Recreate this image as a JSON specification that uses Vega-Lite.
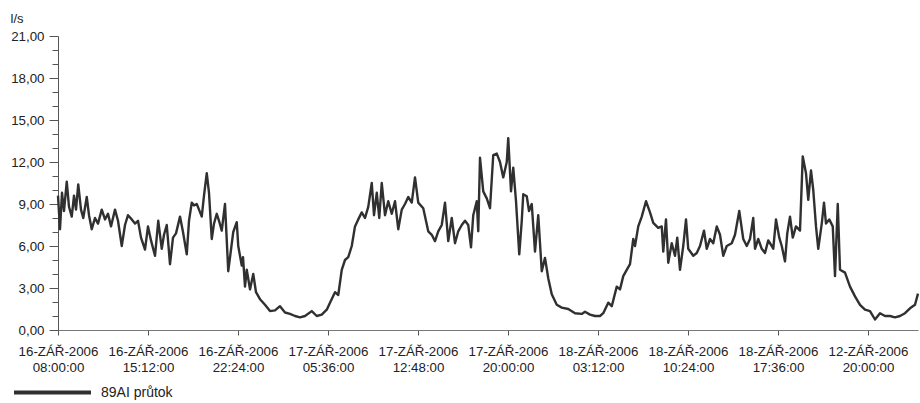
{
  "$schema": "https://vega.github.io/schema/vega-lite/v6.json",
  "width": 860,
  "height": 294,
  "autosize": {"type": "none"},
  "padding": {"left": 58, "top": 36, "right": 2, "bottom": 73},
  "background": "white",
  "config": {
    "view": {"stroke": null},
    "font": "Liberation Sans",
    "axis": {"labelFont": "Liberation Sans", "titleFont": "Liberation Sans", "labelColor": "#222", "titleColor": "#222", "grid": false, "domainColor": "#666", "tickColor": "#555"},
    "legend": {"labelFont": "Liberation Sans", "labelColor": "#222"}
  },
  "data": {
    "values": [
      {"h": 0, "v": 9.6}, {"h": 0.16, "v": 7.2}, {"h": 0.32, "v": 9.8}, {"h": 0.48, "v": 8.5}, {"h": 0.7, "v": 10.6},
      {"h": 0.88, "v": 8.8}, {"h": 1.1, "v": 8.1}, {"h": 1.28, "v": 9.6}, {"h": 1.44, "v": 8.6}, {"h": 1.62, "v": 10.4},
      {"h": 1.84, "v": 8.6}, {"h": 2.02, "v": 8.0}, {"h": 2.3, "v": 9.5}, {"h": 2.48, "v": 8.2}, {"h": 2.7, "v": 7.2},
      {"h": 2.96, "v": 8.0}, {"h": 3.2, "v": 7.6}, {"h": 3.5, "v": 8.6}, {"h": 3.76, "v": 7.9}, {"h": 4.0, "v": 8.3},
      {"h": 4.24, "v": 7.4}, {"h": 4.56, "v": 8.6}, {"h": 4.8, "v": 7.8}, {"h": 5.1, "v": 6.0}, {"h": 5.36, "v": 7.5},
      {"h": 5.6, "v": 8.2}, {"h": 5.9, "v": 7.9}, {"h": 6.16, "v": 7.6}, {"h": 6.4, "v": 7.8}, {"h": 6.64, "v": 6.6},
      {"h": 6.96, "v": 5.75}, {"h": 7.2, "v": 7.4}, {"h": 7.44, "v": 6.4}, {"h": 7.76, "v": 5.3}, {"h": 8.02, "v": 7.8},
      {"h": 8.3, "v": 5.8}, {"h": 8.48, "v": 6.8}, {"h": 8.7, "v": 7.5}, {"h": 8.96, "v": 4.7}, {"h": 9.2, "v": 6.6},
      {"h": 9.44, "v": 6.9}, {"h": 9.76, "v": 8.1}, {"h": 10.0, "v": 7.0}, {"h": 10.3, "v": 5.4}, {"h": 10.48, "v": 7.8},
      {"h": 10.7, "v": 9.1}, {"h": 10.88, "v": 8.9}, {"h": 11.1, "v": 9.0}, {"h": 11.28, "v": 8.6}, {"h": 11.5, "v": 8.1},
      {"h": 11.68, "v": 9.6}, {"h": 11.9, "v": 11.2}, {"h": 12.08, "v": 9.8}, {"h": 12.3, "v": 6.5}, {"h": 12.48, "v": 7.6},
      {"h": 12.7, "v": 8.3}, {"h": 12.88, "v": 7.8}, {"h": 13.1, "v": 7.1}, {"h": 13.36, "v": 9.0}, {"h": 13.62, "v": 4.2},
      {"h": 14.02, "v": 7.0}, {"h": 14.3, "v": 7.7}, {"h": 14.42, "v": 6.0}, {"h": 14.7, "v": 4.6}, {"h": 14.8, "v": 5.2},
      {"h": 14.96, "v": 3.1}, {"h": 15.1, "v": 4.3}, {"h": 15.36, "v": 2.9}, {"h": 15.62, "v": 4.0}, {"h": 15.84, "v": 2.7},
      {"h": 16.16, "v": 2.2}, {"h": 16.56, "v": 1.8}, {"h": 16.96, "v": 1.35}, {"h": 17.36, "v": 1.4}, {"h": 17.76, "v": 1.7},
      {"h": 18.16, "v": 1.25}, {"h": 18.56, "v": 1.15}, {"h": 18.96, "v": 1.0}, {"h": 19.36, "v": 0.9}, {"h": 19.76, "v": 1.0},
      {"h": 20.3, "v": 1.35}, {"h": 20.7, "v": 1.0}, {"h": 21.1, "v": 1.1}, {"h": 21.5, "v": 1.45}, {"h": 21.76, "v": 1.95},
      {"h": 22.16, "v": 2.7}, {"h": 22.42, "v": 2.5}, {"h": 22.7, "v": 4.3}, {"h": 22.96, "v": 5.0}, {"h": 23.22, "v": 5.2},
      {"h": 23.5, "v": 6.0}, {"h": 23.76, "v": 7.4}, {"h": 24.02, "v": 7.9}, {"h": 24.3, "v": 8.4}, {"h": 24.56, "v": 8.0},
      {"h": 24.82, "v": 8.8}, {"h": 25.1, "v": 10.5}, {"h": 25.28, "v": 8.2}, {"h": 25.5, "v": 9.8}, {"h": 25.7, "v": 8.0},
      {"h": 25.9, "v": 10.5}, {"h": 26.16, "v": 8.2}, {"h": 26.42, "v": 9.2}, {"h": 26.7, "v": 8.3}, {"h": 26.96, "v": 9.2},
      {"h": 27.22, "v": 7.2}, {"h": 27.5, "v": 8.6}, {"h": 27.76, "v": 9.0}, {"h": 28.02, "v": 9.5}, {"h": 28.3, "v": 9.1},
      {"h": 28.56, "v": 10.9}, {"h": 28.82, "v": 9.1}, {"h": 29.22, "v": 8.7}, {"h": 29.62, "v": 7.05}, {"h": 29.9, "v": 6.8},
      {"h": 30.16, "v": 6.35}, {"h": 30.42, "v": 7.05}, {"h": 30.7, "v": 7.5}, {"h": 30.96, "v": 9.1}, {"h": 31.22, "v": 6.35},
      {"h": 31.5, "v": 8.0}, {"h": 31.76, "v": 6.2}, {"h": 32.02, "v": 7.05}, {"h": 32.3, "v": 7.5}, {"h": 32.56, "v": 7.8},
      {"h": 32.82, "v": 7.5}, {"h": 33.04, "v": 5.9}, {"h": 33.22, "v": 8.2}, {"h": 33.5, "v": 9.2}, {"h": 33.62, "v": 7.05},
      {"h": 33.76, "v": 12.3}, {"h": 34.02, "v": 9.9}, {"h": 34.3, "v": 9.4}, {"h": 34.56, "v": 8.7}, {"h": 34.82, "v": 12.5},
      {"h": 35.1, "v": 12.6}, {"h": 35.36, "v": 12.0}, {"h": 35.62, "v": 10.9}, {"h": 35.9, "v": 12.0}, {"h": 36.02, "v": 13.7},
      {"h": 36.24, "v": 9.9}, {"h": 36.42, "v": 11.6}, {"h": 36.64, "v": 9.2}, {"h": 36.9, "v": 5.4}, {"h": 37.1, "v": 7.8},
      {"h": 37.22, "v": 9.7}, {"h": 37.5, "v": 9.55}, {"h": 37.68, "v": 8.5}, {"h": 37.9, "v": 9.0}, {"h": 38.16, "v": 5.6},
      {"h": 38.42, "v": 8.2}, {"h": 38.7, "v": 4.2}, {"h": 38.96, "v": 5.15}, {"h": 39.22, "v": 3.7}, {"h": 39.5, "v": 2.55},
      {"h": 39.9, "v": 1.8}, {"h": 40.3, "v": 1.6}, {"h": 40.82, "v": 1.5}, {"h": 41.36, "v": 1.2}, {"h": 41.9, "v": 1.15},
      {"h": 42.16, "v": 1.3}, {"h": 42.56, "v": 1.1}, {"h": 42.96, "v": 1.0}, {"h": 43.36, "v": 1.0}, {"h": 43.62, "v": 1.2},
      {"h": 44.02, "v": 1.95}, {"h": 44.3, "v": 1.7}, {"h": 44.7, "v": 3.1}, {"h": 44.96, "v": 2.9}, {"h": 45.22, "v": 3.85},
      {"h": 45.5, "v": 4.3}, {"h": 45.76, "v": 4.7}, {"h": 46.02, "v": 6.5}, {"h": 46.16, "v": 6.0}, {"h": 46.42, "v": 7.4},
      {"h": 46.7, "v": 8.1}, {"h": 47.04, "v": 9.2}, {"h": 47.36, "v": 8.4}, {"h": 47.62, "v": 7.65}, {"h": 48.02, "v": 7.3},
      {"h": 48.3, "v": 7.4}, {"h": 48.42, "v": 5.6}, {"h": 48.64, "v": 7.9}, {"h": 48.82, "v": 4.8}, {"h": 49.1, "v": 6.2},
      {"h": 49.36, "v": 5.3}, {"h": 49.54, "v": 6.6}, {"h": 49.76, "v": 4.3}, {"h": 50.02, "v": 6.0}, {"h": 50.24, "v": 7.9},
      {"h": 50.42, "v": 5.8}, {"h": 50.82, "v": 5.3}, {"h": 51.1, "v": 5.5}, {"h": 51.36, "v": 6.0}, {"h": 51.68, "v": 7.1},
      {"h": 51.9, "v": 5.8}, {"h": 52.16, "v": 6.5}, {"h": 52.42, "v": 6.2}, {"h": 52.7, "v": 7.4}, {"h": 52.96, "v": 6.8},
      {"h": 53.22, "v": 5.3}, {"h": 53.5, "v": 6.0}, {"h": 53.9, "v": 6.2}, {"h": 54.16, "v": 6.8}, {"h": 54.5, "v": 8.5},
      {"h": 54.82, "v": 6.5}, {"h": 55.1, "v": 6.0}, {"h": 55.36, "v": 6.5}, {"h": 55.62, "v": 8.0}, {"h": 55.76, "v": 5.8},
      {"h": 56.02, "v": 6.5}, {"h": 56.3, "v": 5.8}, {"h": 56.56, "v": 5.5}, {"h": 56.82, "v": 6.4}, {"h": 57.1, "v": 6.0},
      {"h": 57.22, "v": 5.8}, {"h": 57.44, "v": 7.9}, {"h": 57.7, "v": 6.6}, {"h": 57.9, "v": 6.0}, {"h": 58.16, "v": 4.9},
      {"h": 58.34, "v": 6.9}, {"h": 58.56, "v": 8.1}, {"h": 58.78, "v": 6.6}, {"h": 59.04, "v": 7.4}, {"h": 59.36, "v": 7.1},
      {"h": 59.58, "v": 12.4}, {"h": 59.84, "v": 11.2}, {"h": 60.02, "v": 9.3}, {"h": 60.24, "v": 11.4}, {"h": 60.42, "v": 10.0},
      {"h": 60.64, "v": 7.4}, {"h": 60.82, "v": 5.8}, {"h": 61.1, "v": 7.6}, {"h": 61.28, "v": 9.1}, {"h": 61.44, "v": 7.6},
      {"h": 61.7, "v": 7.9}, {"h": 61.98, "v": 7.4}, {"h": 62.16, "v": 3.85}, {"h": 62.38, "v": 9.0}, {"h": 62.56, "v": 4.3},
      {"h": 62.96, "v": 4.1}, {"h": 63.36, "v": 3.1}, {"h": 63.76, "v": 2.4}, {"h": 64.16, "v": 1.8}, {"h": 64.56, "v": 1.45},
      {"h": 64.96, "v": 1.35}, {"h": 65.36, "v": 0.75}, {"h": 65.76, "v": 1.2}, {"h": 66.16, "v": 1.0}, {"h": 66.56, "v": 1.0},
      {"h": 66.96, "v": 0.9}, {"h": 67.36, "v": 1.0}, {"h": 67.76, "v": 1.2}, {"h": 68.16, "v": 1.55}, {"h": 68.56, "v": 1.8},
      {"h": 68.8, "v": 2.6}
    ]
  },
  "mark": {"type": "line", "strokeWidth": 2.4, "strokeJoin": "round"},
  "encoding": {
    "x": {
      "field": "h",
      "type": "quantitative",
      "scale": {"domain": [0, 68.8], "nice": false, "zero": false},
      "axis": {
        "title": null,
        "values": [0, 7.2, 14.4, 21.6, 28.8, 36, 43.2, 50.4, 57.6, 64.8],
        "labelExpr": "[['16-ZÁŘ-2006','08:00:00'],['16-ZÁŘ-2006','15:12:00'],['16-ZÁŘ-2006','22:24:00'],['17-ZÁŘ-2006','05:36:00'],['17-ZÁŘ-2006','12:48:00'],['17-ZÁŘ-2006','20:00:00'],['18-ZÁŘ-2006','03:12:00'],['18-ZÁŘ-2006','10:24:00'],['18-ZÁŘ-2006','17:36:00'],['12-ZÁŘ-2006','20:00:00']][round(datum.value/7.2)]",
        "labelFontSize": 13.3,
        "labelLineHeight": 16.5,
        "labelPadding": 9,
        "tickSize": 5,
        "labelOverlap": false,
        "labelFlush": false,
        "labelBound": false,
        "labelLimit": 0,
        "domainColor": "#777",
        "tickColor": "#555"
      }
    },
    "y": {
      "field": "v",
      "type": "quantitative",
      "scale": {"domain": [0, 21], "nice": false},
      "axis": {
        "title": "l/s",
        "titleAngle": 0,
        "titleAlign": "left",
        "titleBaseline": "middle",
        "titleX": -48,
        "titleY": -18,
        "titleFontSize": 13,
        "titleFontWeight": "normal",
        "values": [0, 1, 2, 3, 4, 5, 6, 7, 8, 9, 10, 11, 12, 13, 14, 15, 16, 17, 18, 19, 20, 21],
        "labelExpr": "datum.value % 3 == 0 ? replace(format(datum.value, '.2f'), '.', ',') : ''",
        "labelFontSize": 13.3,
        "labelPadding": 5,
        "labelOverlap": false,
        "labelBound": false,
        "tickSize": {"condition": {"test": "datum.value % 3 == 0", "value": 9}, "value": 6},
        "domainColor": "#555"
      }
    },
    "color": {
      "datum": "89AI průtok",
      "type": "nominal",
      "scale": {"range": ["#303030"]},
      "legend": {
        "orient": "none",
        "legendX": -46,
        "legendY": 316,
        "title": null,
        "padding": 0,
        "symbolType": "stroke",
        "symbolSize": 5929,
        "symbolStrokeWidth": 4,
        "labelFontSize": 14,
        "labelOffset": 8,
        "labelLimit": 0
      }
    }
  }
}
